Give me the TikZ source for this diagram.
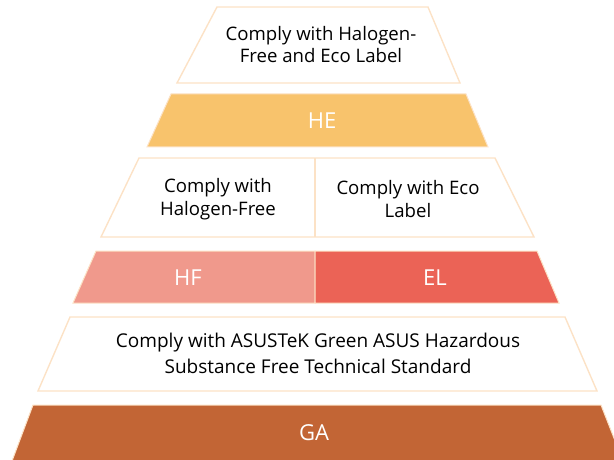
\documentclass[tikz,border=0pt]{standalone}
\usepackage{fontspec}
\setmainfont{Open Sans}
\definecolor{rim}{HTML}{FCE2C6}
\definecolor{heband}{HTML}{F8C36C}
\definecolor{hfband}{HTML}{F0998C}
\definecolor{elband}{HTML}{EB6356}
\definecolor{gaband}{HTML}{C26535}
\tikzset{
  tier/.style={draw=rim, line width=1.4pt, fill=white},
  band/.style={draw=rim, line width=1pt},
  note/.style={align=center, font=\fontsize{18.6}{22.5}\selectfont, text=black},
  bignote/.style={note, font=\fontsize{19}{26}\selectfont},
  tag/.style={text=white, font=\fontsize{22}{26}\selectfont}
}

\begin{document}
\begin{tikzpicture}[x=1pt,y=-1pt]
            \useasboundingbox (0,0) rectangle (614,460);
            \clip (0,0) rectangle (614,460);

            \draw[tier] (217,7) -- (428,7) -- (460,83) -- (177,83) -- cycle;
            \node[note] (herule) at (321,44.5) {Comply with Halogen-\\Free and Eco Label};
            \draw[band,fill=heband] (171,94) -- (466,94) -- (488,147) -- (147,147) -- cycle;
            \node[tag] (he) at (322,121) {HE};

            \draw[tier] (139,158) -- (495,158) -- (534,237) -- (101,237) -- cycle;
            \draw[draw=rim, line width=1.4pt] (315,158) -- (315,237);
            \node[note] (hfrule) at (218,199) {Comply with\\Halogen-Free};
            \node[note] (elrule) at (408,199) {Comply with Eco\\Label};
            \draw[band,fill=hfband] (96,251) -- (315,251) -- (315,303) -- (73,303) -- cycle;
            \draw[band,fill=elband] (315,251) -- (537,251) -- (559,303) -- (315,303) -- cycle;
            \node[tag] (hf) at (188,278) {HF};
            \node[tag] (el) at (435,278) {EL};

            \draw[tier] (70,317) -- (565,317) -- (597,391) -- (38,391) -- cycle;
            \node[bignote] (garule) at (318,353) {Comply with ASUSTeK Green ASUS Hazardous\\Substance Free Technical Standard};
            \draw[band,fill=gaband] (33,405) -- (601,405) -- (623,461) -- (12,461) -- cycle;
            \node[tag] (ga) at (314,433) {GA};

        \end{tikzpicture}
\end{document}
